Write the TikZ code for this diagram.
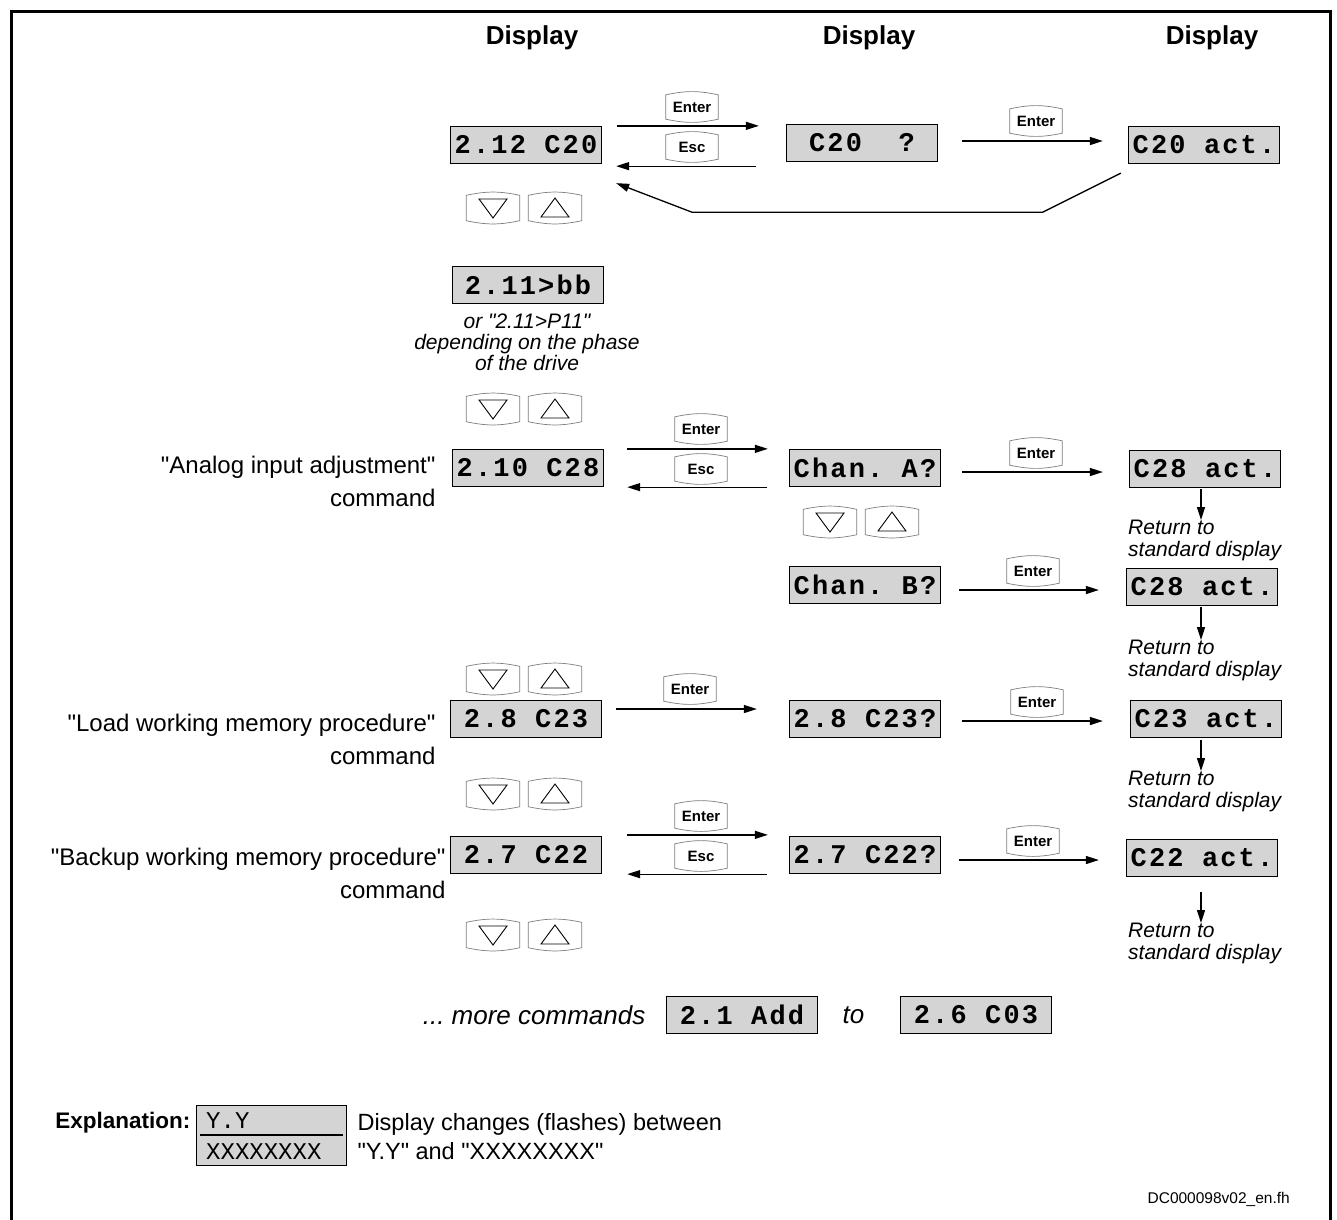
\documentclass[tikz,border=0pt]{standalone}
\usepackage{fontspec}
\setmainfont{Liberation Sans}[Ligatures=TeXOff]
\newfontfamily\lcdfont{Liberation Mono}[LetterSpace=8]
\newfontfamily\flashfont{Liberation Mono}
\usetikzlibrary{arrows.meta,positioning,calc}
\definecolor{lcdgray}{RGB}{212,212,212}
\definecolor{keygray}{RGB}{125,125,125}
\frenchspacing

\begin{document}
\begin{tikzpicture}[x=1pt, y=-1pt,
	lcd/.style={draw, fill=lcdgray, line width=1.3pt, minimum width=151pt, minimum height=37pt, inner sep=0pt, font=\lcdfont\bfseries\fontsize{27}{27}\selectfont},
	keycap/.style={minimum width=52pt, minimum height=24pt, inner sep=0pt, font=\bfseries\fontsize{15}{15}\selectfont},
	navkey/.style={minimum width=53pt, minimum height=25pt, inner sep=0pt},
	keyline/.style={draw=keygray, line width=0.7pt},
	flow/.style={line width=1.3pt, -{Triangle[length=13pt,width=8pt]}},
	hdr/.style={font=\bfseries\fontsize{26}{26}\selectfont},
	cmd/.style={align=right, anchor=east, font=\fontsize{24}{33}\selectfont},
	ret/.style={align=left, anchor=north west, inner sep=0pt, font=\itshape\fontsize{21}{22}\selectfont},
	note/.style={font=\itshape\fontsize{26}{26}\selectfont}]

	\useasboundingbox (0,0) rectangle (1337,1219);
	\draw[line width=3pt] (11,1230) -- (11,11.5) -- (1330,11.5) -- (1330,1230);

	\node[hdr] (hdA) at (532,38) {Display};
	\node[hdr] (hdB) at (869,38) {Display};
	\node[hdr] (hdC) at (1212,38) {Display};

	% displays
	\node[lcd] (d1) at (526,145) {2.12 C20};
	\node[lcd] (d2) at (862,143) {C20\ \ ?};
	\node[lcd] (d3) at (1204,145) {C20 act.};
	\node[lcd] (d4) at (528,285) {2.11>bb};
	\node[lcd] (d5) at (528,468) {2.10 C28};
	\node[lcd] (d6) at (865,468) {Chan. A?};
	\node[lcd] (d7) at (1205,469) {C28 act.};
	\node[lcd] (d8) at (865,585) {Chan. B?};
	\node[lcd] (d9) at (1202,587) {C28 act.};
	\node[lcd] (d10) at (526,719) {2.8 C23};
	\node[lcd] (d11) at (865,719) {2.8 C23?};
	\node[lcd] (d12) at (1206,719) {C23 act.};
	\node[lcd] (d13) at (526,855) {2.7 C22};
	\node[lcd] (d14) at (865,855) {2.7 C22?};
	\node[lcd] (d15) at (1202,858) {C22 act.};
	\node[lcd] (d16) at (742,1015) {2.1 Add};
	\node[lcd] (d17) at (976,1015) {2.6 C03};

	\node[align=center, font=\itshape\fontsize{21}{21}\selectfont] (phase) at (527,342) {or "2.11>P11"\\depending on the phase\\of the drive};

	\node[cmd] (cmdA) at (439,481) {"Analog input adjustment"\\command};
	\node[cmd] (cmdB) at (439,739) {"Load working memory procedure"\\command};
	\node[cmd] (cmdC) at (449,873) {"Backup working memory procedure"\\command};

	% keys
	\node[keycap] (kEn1) at (692,107) {Enter};
	\node[keycap] (kEs1) at (692,147) {Esc};
	\node[keycap] (kEn2) at (1036,121) {Enter};
	\node[keycap] (kEn3) at (701,429) {Enter};
	\node[keycap] (kEs3) at (701,469) {Esc};
	\node[keycap] (kEn4) at (1036,453) {Enter};
	\node[keycap] (kEn5) at (1033,571) {Enter};
	\node[keycap] (kEn6) at (690,689) {Enter};
	\node[keycap] (kEn7) at (1037,702) {Enter};
	\node[keycap] (kEn8) at (701,816) {Enter};
	\node[keycap] (kEs8) at (701,856) {Esc};
	\node[keycap] (kEn9) at (1033,841) {Enter};
	\foreach \k in {kEn1,kEs1,kEn2,kEn3,kEs3,kEn4,kEn5,kEn6,kEn7,kEn8,kEs8,kEn9}
	{
		\draw[keyline] (\k.south west) to[bend right=12] (\k.south east) -- (\k.north east) to[bend right=12] (\k.north west) -- cycle;
	}

	\foreach \i/\x/\y in {1/524/208, 2/524/409, 3/861/522, 4/524/679, 5/524/794, 6/524/935}
	{
		\node[navkey] (dn\i) at (\x-31,\y) {};
		\node[navkey] (up\i) at (\x+31,\y) {};
		\draw[keyline] (dn\i.south west) to[bend right=12] (dn\i.south east) -- (dn\i.north east) to[bend right=12] (dn\i.north west) -- cycle;
		\draw[keyline] (up\i.south west) to[bend right=12] (up\i.south east) -- (up\i.north east) to[bend right=12] (up\i.north west) -- cycle;
		\draw[line width=0.9pt] (dn\i.center) ++(-14,-9) -- ++(28,0) -- ++(-14,19) -- cycle;
		\draw[line width=0.9pt] (up\i.center) ++(-14,9) -- ++(28,0) -- ++(-14,-19) -- cycle;
	}

	% arrows
	\draw[flow] ($(d1.north east)+(15,0)$) -- ($(d2.west |- d1.north)+(-27,0)$);
	\draw[flow] ($(d2.west |- d1.south)+(-30,2)$) -- ($(d1.south east)+(14,2)$);
	\draw[flow] ($(d2.east)+(24,-2)$) -- ($(d3.west |- d2.east)+(-25,-2)$);
	\draw[flow] ($(d3.south west)+(-7,9)$) -- ++(-78,39) -- ++(-351,0) -- ($(d1.south east)+(14,19)$);

	\draw[flow] ($(d5.north east)+(23,0)$) -- ($(d6.west |- d5.north)+(-21,0)$);
	\draw[flow] ($(d6.west |- d5.south)+(-22,0)$) -- ($(d5.south east)+(23,0)$);
	\draw[flow] ($(d6.east)+(21,4)$) -- ($(d7.west |- d6.east)+(-26,4)$);
	\draw[flow] ($(d8.east)+(18,5)$) -- ($(d9.west |- d8.east)+(-27,5)$);

	\draw[flow] ($(d10.east)+(14,-10)$) -- ($(d11.west |- d10.east)+(-32,-10)$);
	\draw[flow] ($(d11.east)+(21,2)$) -- ($(d12.west |- d11.east)+(-27,2)$);

	\draw[flow] ($(d13.north east)+(25,-1)$) -- ($(d14.west |- d13.north)+(-21,-1)$);
	\draw[flow] ($(d14.west |- d13.south)+(-22,0)$) -- ($(d13.south east)+(25,0)$);
	\draw[flow] ($(d14.east)+(18,5)$) -- ($(d15.west |- d14.east)+(-27,5)$);

	% return to standard display
	\node[ret] (r1) at (1128,520) {Return to\\standard display};
	\node[ret] (r2) at (1128,640) {Return to\\standard display};
	\node[ret] (r3) at (1128,771) {Return to\\standard display};
	\node[ret] (r4) at (1128,923) {Return to\\standard display};
	\draw[flow] ($(d7.south)+(-4,1)$) -- ($(d7.south |- r1.north)+(-4,0)$);
	\draw[flow] ($(d9.south)+(-1,1)$) -- ($(d9.south |- r2.north)+(-1,0)$);
	\draw[flow] ($(d12.south)+(-5,2)$) -- ($(d12.south |- r3.north)+(-5,0)$);
	\draw[flow] ($(d15.south)+(-1,15)$) -- ($(d15.south |- r4.north)+(-1,0)$);

	\node[note, left=17pt of d16] (more) {... more commands};
	\node[note, right=21pt of d16] (tolbl) {to};

	% explanation
	\node[anchor=east, font=\bfseries\fontsize{22.5}{22.5}\selectfont] (explhd) at (194,1123) {Explanation:};
	\node[draw, fill=lcdgray, line width=1pt, minimum width=150pt, minimum height=60pt] (expl) at (271,1135) {};
	\node[anchor=west, inner sep=0pt, font=\flashfont\fontsize{24}{24}\selectfont] (yy) at (206,1121) {Y.Y};
	\node[anchor=west, inner sep=0pt, font=\flashfont\fontsize{24}{24}\selectfont] (xx) at (206,1152) {XXXXXXXX};
	\draw[line width=2.5pt] ($(expl.west)+(4,0)$) -- ($(expl.east)+(-4,0)$);
	\node[anchor=west, align=left, font=\fontsize{23.5}{29}\selectfont] (expltxt) at (354,1137) {Display changes (flashes) between\\"Y.Y" and "XXXXXXXX"};

	\node[anchor=east, inner sep=0pt, font=\fontsize{15.5}{15.5}\selectfont] (dcid) at (1290,1199) {DC000098v02\_en.fh};
\end{tikzpicture}
\end{document}
